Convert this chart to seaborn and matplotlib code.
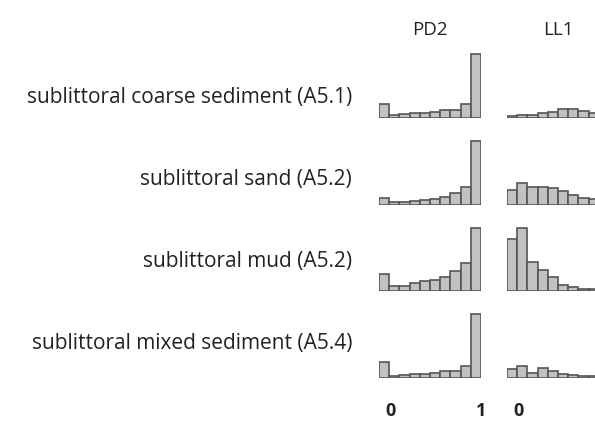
import numpy as np
import pandas as pd
import seaborn as sns
import matplotlib
matplotlib.use("Agg")
import matplotlib.pyplot as plt
from matplotlib.transforms import ScaledTranslation

# ---- data (bar heights, 10 bins over 0..1) ----
habitats = ["sublittoral coarse sediment (A5.1)",
            "sublittoral sand (A5.2)",
            "sublittoral mud (A5.2)",
            "sublittoral mixed sediment (A5.4)"]
sites = ["PD2", "LL1"]
bin_edges = [0.0, 0.1, 0.2, 0.3, 0.4, 0.5, 0.6, 0.7, 0.8, 0.9, 1.0]

coarse_pd2 = [14, 3, 4, 5, 5, 6, 8, 8, 14, 63]
sand_pd2 = [7, 3, 3, 4, 5, 6, 8, 12, 18, 63]
mud_pd2 = [17, 5, 5, 8, 10, 11, 14, 20, 28, 62]
mixed_pd2 = [16, 2, 3, 4, 4, 5, 7, 7, 12, 63]

coarse_ll1 = [1.5, 2.5, 3, 5, 6, 9, 9, 7, 5, 4]
sand_ll1 = [15, 22, 18, 18, 17, 14, 10, 7, 6, 4]
mud_ll1 = [51, 62, 29, 21, 14, 6, 4, 2, 1.5, 1]
mixed_ll1 = [9, 12, 5, 10, 7, 4, 3, 2, 2, 2]

x_tick_values = {"PD2": [0, 1], "LL1": [0]}
x_tick_labels = {"PD2": ["0", "1"], "LL1": ["0"]}

heights = {
    ("PD2", 0): coarse_pd2, ("PD2", 1): sand_pd2,
    ("PD2", 2): mud_pd2, ("PD2", 3): mixed_pd2,
    ("LL1", 0): coarse_ll1, ("LL1", 1): sand_ll1,
    ("LL1", 2): mud_ll1, ("LL1", 3): mixed_ll1,
}

sns.set_style("white")
plt.rcParams["font.family"] = ["Open Sans", "DejaVu Sans"]

W, H = 595, 424
fig = plt.figure(figsize=(W / 100, H / 100), dpi=100)

col_left = {"PD2": 379, "LL1": 507}
panel_w = 102
panel_h = 65
baselines = [118, 205, 291, 378]
label_y = [97, 179, 262, 343]

centers = [(a + b) / 2 for a, b in zip(bin_edges[:-1], bin_edges[1:])]

for r, hab in enumerate(habitats):
    for site in sites:
        ax = fig.add_axes([col_left[site] / W, 1 - baselines[r] / H,
                           panel_w / W, panel_h / H])
        df = pd.DataFrame({"value": centers, "count": heights[(site, r)]})
        sns.histplot(data=df, x="value", weights="count", bins=bin_edges,
                     ax=ax, color="#c2c2c2", alpha=1.0,
                     edgecolor="#555555", linewidth=1.2)
        ax.set_xlim(0, 1)
        ax.set_ylim(0, 64)
        ax.set_xlabel("")
        ax.set_ylabel("")
        ax.set_yticks([])
        for s in ax.spines.values():
            s.set_visible(False)
        if r == 0:
            ax.set_title(site, fontsize=13.5, pad=13, color="#222222")
        if r == len(habitats) - 1:
            ax.set_xticks(x_tick_values[site])
            ax.set_xticklabels(x_tick_labels[site], fontsize=13,
                               fontweight="bold", color="#222222")
            ax.tick_params(axis="x", length=0, pad=17)
            lbl0 = ax.get_xticklabels()[0]
            lbl0.set_transform(lbl0.get_transform() +
                               ScaledTranslation(0.11, 0, fig.dpi_scale_trans))
        else:
            ax.set_xticks([])
    fig.text(352 / W, 1 - label_y[r] / H, hab, ha="right", va="center",
             fontsize=15, color="#222222")

fig.savefig("out.png", dpi=100)
